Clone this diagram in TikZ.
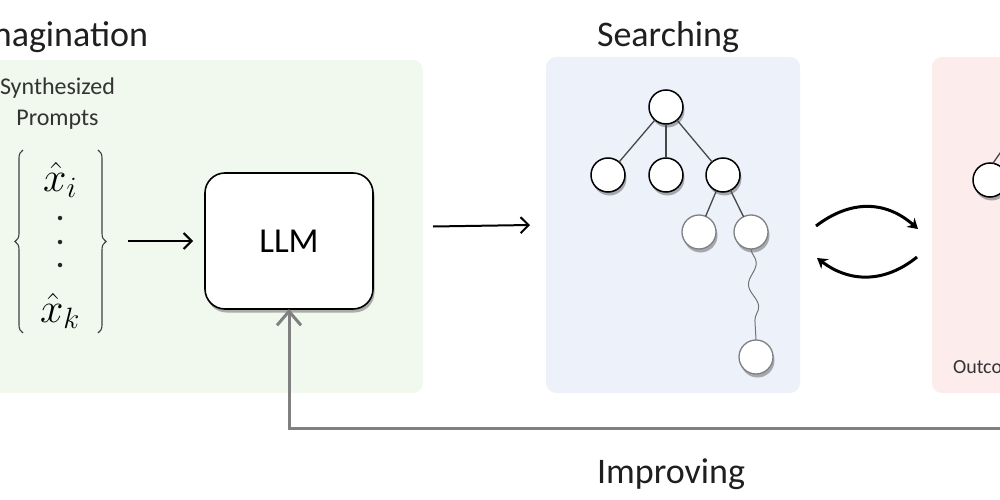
\RequirePackage{fix-cm}
\documentclass[tikz,border=0pt]{standalone}
\usepackage{fontspec}
\setmainfont{Carlito}
\usetikzlibrary{arrows.meta,shadows,decorations.pathreplacing,decorations.pathmorphing}
\definecolor{imgcol}{RGB}{241,248,238}
\definecolor{srchcol}{RGB}{237,242,250}
\definecolor{outcol}{RGB}{252,236,236}
\begin{document}
\begin{tikzpicture}[x=1pt,y=-1pt,
  every node/.style={inner sep=0pt, outer sep=0pt},
  title/.style={font=\fontsize{36}{40}\selectfont, text=black!88},
  panel/.style={rounded corners=10pt, draw=none},
  shad/.style={drop shadow={shadow xshift=1.5pt, shadow yshift=-3.5pt, opacity=0.3, fill=black}},
  tnode/.style={circle, minimum size=34pt, draw=black, line width=1.5pt, fill=white, shad},
  gnode/.style={tnode, draw=black!50, line width=1.3pt},
  tedge/.style={draw=black!72, line width=1.3pt},
  wavy/.style={draw=black!55, line width=1pt, decorate, decoration={snake, amplitude=4.5pt, segment length=44pt}},
  bracestyle/.style={draw=black!75, line width=1.1pt, decorate, decoration={brace, amplitude=8pt}},
  arr/.style={draw=black, line width=2pt, -{Straight Barb[length=8pt,width=16pt]}},
  carr/.style={draw=black, line width=3pt, -{Stealth[length=10pt,width=12pt]}},
  fbarr/.style={draw=black!50, line width=3pt, -{Straight Barb[length=14pt,width=24pt]}},
  dotn/.style={circle, fill=black!85, minimum size=4.5pt},
  mathn/.style={font=\fontsize{42}{46}\selectfont},
]
\useasboundingbox (0,0) rectangle (1000,500);
\clip (0,0) rectangle (1000,500);

% panels
\node[panel, fill=imgcol, minimum width=443pt, minimum height=333pt] (imgbox) at (201.5,226.5) {};
\node[panel, fill=srchcol, minimum width=254pt, minimum height=336pt] (search) at (673,225) {};
\node[panel, fill=outcol, minimum width=168pt, minimum height=336pt] (outbox) at (1016,225) {};

% titles
\node[title, anchor=east] (imgtitle) at (148,37) {Imagination};
\node[title] (srchtitle) at (668,37) {Searching};
\node[title] (imptitle) at (671,474) {Improving};

% imagination contents
\node[font=\fontsize{24}{31}\selectfont, text=black!80, align=center] (synth) at (57.5,104) {Synthesized\\Prompts};
\node[mathn] (xi) at (60,180) {$\hat{x}_i$};
\node[dotn] (d1) at (60,218) {};
\node[dotn] (d2) at (60,242) {};
\node[dotn] (d3) at (60,265) {};
\node[mathn] (xk) at (60,311) {$\hat{x}_k$};
\coordinate (lbA) at (23,150);
\coordinate (lbB) at (23,333);
\coordinate (rbA) at (98,150);
\coordinate (rbB) at (98,333);
\draw[bracestyle] (lbB) -- (lbA);
\draw[bracestyle] (rbA) -- (rbB);
\coordinate (brtip) at (107,241);

\node[draw=black, line width=1.6pt, rounded corners=20pt, minimum width=168pt, minimum height=136pt, fill=white, shad, font=\fontsize{35}{40}\selectfont] (llm) at (289,241) {LLM};

\draw[arr] ([xshift=21pt]brtip) -- ([xshift=-12pt]llm.west);
\draw[arr] ([xshift=10pt]imgbox.east) -- ([xshift=-16pt]search.west);

% tree
\node[tnode] (r) at (666,107) {};
\node[tnode] (c1) at (608,175) {};
\node[tnode] (c2) at (666,175) {};
\node[tnode] (c3) at (723,175) {};
\node[gnode] (g1) at (699,232) {};
\node[gnode] (g2) at (751,232) {};
\node[gnode] (bt) at (756,357) {};
\draw[tedge] (r) -- (c1);
\draw[tedge] (r) -- (c2);
\draw[tedge] (r) -- (c3);
\draw[tedge] (c3) -- (g1);
\draw[tedge] (c3) -- (g2);
\draw[wavy] (g2.south) -- (bt.north);

% curved arrows
\coordinate (u1) at (816,226);
\coordinate (u2) at (918,229);
\coordinate (l1) at (917,257);
\coordinate (l2) at (817,258);
\draw[carr] (u1) .. controls (850,200) and (885,200) .. (u2);
\draw[carr] (l1) .. controls (885,283) and (850,283) .. (l2);

% outcome panel (partially visible)
\node[tnode] (o1) at (990,180) {};
\coordinate (o0) at (1030,110);
\draw[tedge] (o1.80) -- (o0);
\node[font=\fontsize{20}{24}\selectfont, text=black!80, anchor=base west] (outc) at (953,373) {Outcome};

% feedback
\coordinate (fb) at (1010,428);
\draw[fbarr] (fb) -| (llm.south);
\end{tikzpicture}
\end{document}
